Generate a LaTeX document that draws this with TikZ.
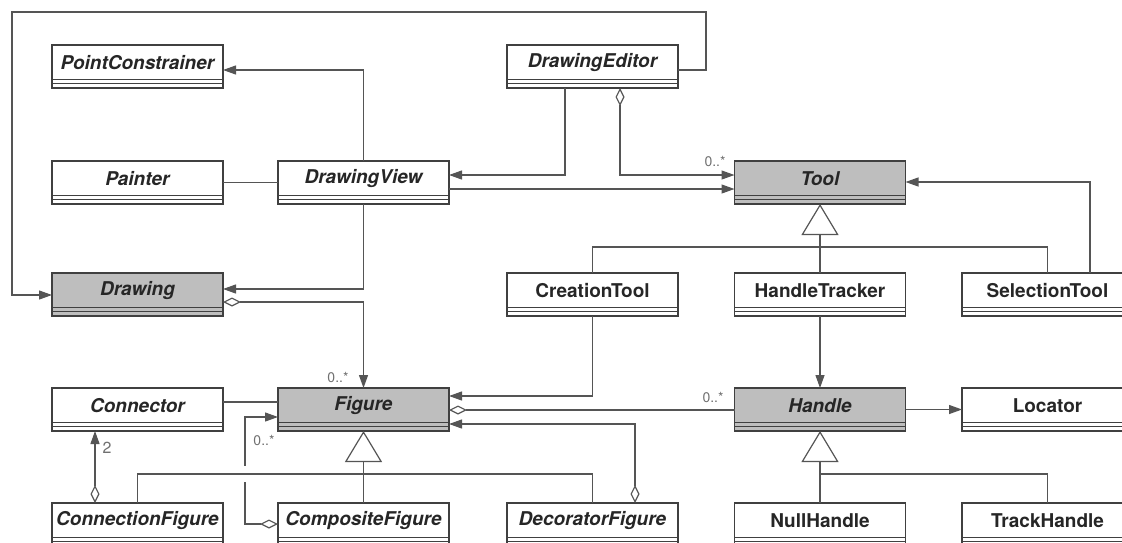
\documentclass[tikz,border=0pt]{standalone}
\usepackage{fontspec}
\setmainfont{TeX Gyre Heros}
\usetikzlibrary{arrows.meta,calc}

\definecolor{boxcol}{HTML}{404040}
\definecolor{linecol}{HTML}{555555}
\definecolor{abstractfill}{HTML}{BEBEBE}
\definecolor{txtcol}{HTML}{262626}
\definecolor{multcol}{HTML}{707070}

% UML class box: name, centre x, top y, label, extra box style
\newcommand\umlclass[5]{%
  \node[classbox,#5] (#1) at (#2,#3+21.5) {};
  \draw[compline] ([yshift=-34pt]#1.north west) -- ([yshift=-34pt]#1.north east);
  \draw[compline] ([yshift=-38.5pt]#1.north west) -- ([yshift=-38.5pt]#1.north east);
  \node[classname] (#1-name) at ([yshift=-17.5pt]#1.north) {#4};
}

\begin{document}
\begin{tikzpicture}[x=1pt,y=-1pt,
  classbox/.style={draw=boxcol,line width=1.2pt,fill=white,minimum width=171pt,
    minimum height=43pt,inner sep=0pt,outer sep=0pt},
  abstractcls/.style={fill=abstractfill},
  compline/.style={draw=boxcol,line width=1pt},
  classname/.style={font=\fontsize{19}{22}\selectfont\bfseries,text=txtcol,inner sep=0pt},
  multlabel/.style={font=\fontsize{14}{16}\selectfont,text=multcol,inner sep=0pt},
  link/.style={draw=linecol,line width=1.2pt},
  navlink/.style={link,-{Triangle[length=13pt,width=9pt]}},
  aggnav/.style={link,{Diamond[fill=white,length=18pt,width=9pt]}-{Triangle[length=13pt,width=9pt]}},
  aggend/.style={link,{Diamond[fill=white,length=18pt,width=9pt]}-},
  genlink/.style={link,-{Triangle[fill=white,length=31pt,width=37pt]}},
]
\useasboundingbox (0,0) rectangle (1122,542);
\clip (0,0) rectangle (1122,542);
\fill[white] (0,0) rectangle (1122,542);

% classes
\umlclass{PointConstrainer}{137.5}{45}{\itshape PointConstrainer}{}
\umlclass{DrawingEditor}{592.5}{45}{\itshape DrawingEditor}{}
\umlclass{Painter}{137.5}{161}{\itshape Painter}{}
\umlclass{DrawingView}{363.5}{161}{\itshape DrawingView}{}
\umlclass{Tool}{820}{161}{\itshape Tool}{abstractcls}
\umlclass{Drawing}{137.5}{273}{\itshape Drawing}{abstractcls}
\umlclass{CreationTool}{592.5}{273}{CreationTool}{}
\umlclass{HandleTracker}{820}{273}{HandleTracker}{}
\umlclass{SelectionTool}{1047.5}{273}{SelectionTool}{}
\umlclass{Connector}{137.5}{388}{\itshape Connector}{}
\umlclass{Figure}{363.5}{388}{\itshape Figure}{abstractcls}
\umlclass{Handle}{820}{388}{\itshape Handle}{abstractcls}
\umlclass{Locator}{1047.5}{388}{Locator}{}
\umlclass{ConnectionFigure}{137.5}{503}{\itshape ConnectionFigure}{}
\umlclass{CompositeFigure}{363.5}{503}{\itshape CompositeFigure}{}
\umlclass{DecoratorFigure}{592.5}{503}{\itshape DecoratorFigure}{}
\umlclass{NullHandle}{820}{503}{NullHandle}{}
\umlclass{TrackHandle}{1047.5}{503}{TrackHandle}{}

% DrawingEditor -> Drawing, around the top and left edges
\coordinate (edTop) at (706,12);
\coordinate (edLeft) at (12,295);
\draw[navlink] (DrawingEditor.east |- 0,70) -| (edTop) -| (edLeft) -- (Drawing.west |- 0,295);

% DrawingView associations
\draw[navlink] (DrawingView.north) |- (PointConstrainer.east |- 0,70);
\draw[link] (Painter.east) -- (DrawingView.west);
\draw[navlink] (DrawingView.east |- 0,189) -- (Tool.west |- 0,189);
\draw[navlink] (DrawingView.south) |- (Drawing.east |- 0,289);

% DrawingEditor associations
\draw[navlink] (DrawingEditor.south -| 565,0) |- (DrawingView.east |- 0,175);
\draw[aggnav] (DrawingEditor.south -| 620,0) |- (Tool.west |- 0,175);

% Drawing aggregates figures
\draw[aggnav] (Drawing.east |- 0,302) -| (Figure.north);
\draw[link] (Connector.east |- 0,402) -- (Figure.west |- 0,402);

% CompositeFigure aggregates figures (with a hop over the inheritance bus)
\coordinate (compTurn) at (245,417);
\draw[aggnav] (CompositeFigure.west |- 0,524) -| (compTurn) -- (Figure.west |- 0,417);
\draw[white,line width=4pt] (245,466) -- (245,482);

% Figure hierarchy
\draw[genlink] (CompositeFigure.north) -- (Figure.south);
\draw[link] (ConnectionFigure.north) |- (CompositeFigure.north |- 0,474) -| (DecoratorFigure.north);
\draw[aggnav] (ConnectionFigure.north -| 95,0) -- (Connector.south -| 95,0);
\draw[aggnav] (DecoratorFigure.north -| 635,0) |- (Figure.east |- 0,424);

% tools
\draw[navlink] (CreationTool.south) |- (Figure.east |- 0,396);
\draw[genlink] (HandleTracker.north) -- (Tool.south);
\draw[link] (CreationTool.north) |- (HandleTracker.north |- 0,247) -| (SelectionTool.north);
\draw[navlink] (SelectionTool.north -| 1090,0) |- (Tool.east |- 0,182);

% handles
\draw[aggend] (Figure.east |- 0,410) -- (Handle.west |- 0,410);
\draw[navlink] (HandleTracker.south) -- (Handle.north);
\draw[navlink] (Handle.east) -- (Locator.west);
\draw[genlink] (NullHandle.north) -- (Handle.south);
\draw[link] (NullHandle.north |- 0,474) -| (TrackHandle.north);

% multiplicities
\node[multlabel] (mTool) at (715,161) {0..*};
\node[multlabel] (mFigTop) at (338,377) {0..*};
\node[multlabel] (mComp) at (264,440) {0..*};
\node[multlabel] (mHandle) at (713,397) {0..*};
\node[multlabel,font=\fontsize{16}{18}\selectfont] (mConn) at (107,448) {2};
\end{tikzpicture}
\end{document}
